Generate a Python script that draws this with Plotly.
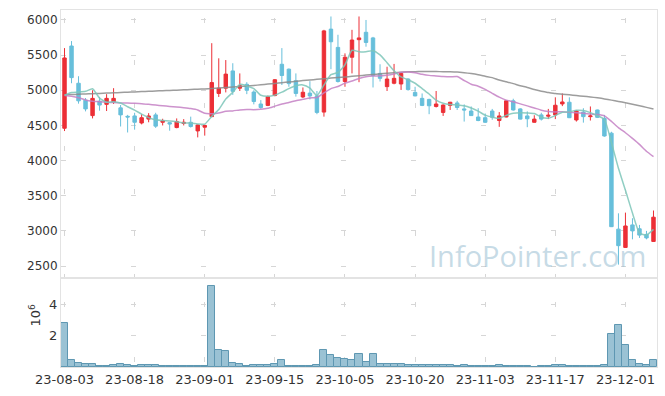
import pandas as pd
import plotly.graph_objects as go

# ---------------- data ----------------
holidays = ["2023-08-15", "2023-09-28", "2023-09-29", "2023-10-02", "2023-10-03", "2023-10-09"]
dates = pd.bdate_range("2023-08-03", "2023-12-07", freq="C", holidays=holidays)
labels = [d.strftime("%y-%m-%d") for d in dates]

opens = [4460, 5630, 5100, 4860, 4640, 4845, 4800, 4835, 4750, 4630,
         4635, 4535, 4590, 4650, 4545, 4540, 4470, 4528, 4545, 4422,
         4475, 4625, 4955, 5030, 5275, 5030, 5085, 4975, 4805, 4785,
         4925, 5370, 5300, 5135, 4905, 4960, 4920, 4690, 5870, 5610,
         5125, 5470, 5720, 5825, 5745, 5240, 5052, 5100, 5090, 5160,
         4970, 4885, 4870, 4770, 4685, 4785, 4820, 4735, 4705, 4620,
         4610, 4705, 4570, 4620, 4850, 4735, 4635, 4545, 4650, 4632,
         4650, 4806, 4830, 4578, 4690, 4625, 4720, 4600, 4390, 3025,
         2765, 3085, 3030, 2950, 2850]
highs = [5600, 5700, 5200, 4890, 5000, 4905, 4945, 5030, 4790, 4650,
         4680, 4660, 4675, 4680, 4595, 4545, 4600, 4590, 4625, 4515,
         4510, 5670, 5455, 5430, 5385, 5240, 5115, 5000, 4860, 4925,
         5160, 5600, 5310, 5240, 5040, 5130, 4990, 5860, 6050, 5790,
         5525, 5860, 6050, 6000, 5760, 5370, 5335, 5375, 5260, 5170,
         5050, 4955, 4880, 4990, 4800, 4835, 4850, 4800, 4770, 4745,
         4670, 4735, 4690, 4860, 4880, 4745, 4700, 4645, 4680, 4735,
         4900, 4955, 4900, 4720, 4745, 4770, 4725, 4650, 4410, 3250,
         3260, 3180, 3085, 3000, 3290]
lows = [4420, 5100, 4810, 4700, 4600, 4710, 4705, 4805, 4485, 4400,
        4440, 4515, 4545, 4465, 4500, 4425, 4460, 4500, 4470, 4330,
        4355, 4620, 4905, 4970, 4935, 4990, 4945, 4800, 4735, 4775,
        4915, 5075, 5050, 4910, 4890, 4870, 4660, 4625, 5300, 5110,
        5050, 5240, 5115, 5620, 5040, 5125, 4990, 5085, 5005, 4995,
        4915, 4775, 4660, 4755, 4635, 4720, 4720, 4555, 4635, 4560,
        4535, 4580, 4480, 4615, 4710, 4585, 4475, 4540, 4570, 4590,
        4590, 4775, 4605, 4555, 4540, 4570, 4605, 4340, 3055, 2520,
        2760, 2880, 2900, 2880, 2845]
closes = [5460, 5180, 4850, 4735, 4885, 4790, 4885, 4885, 4650, 4620,
          4545, 4610, 4635, 4490, 4565, 4520, 4555, 4545, 4485, 4507,
          4500, 5110, 5030, 5230, 4985, 5065, 5000, 4840, 4755, 4910,
          5150, 5210, 5095, 4955, 4972, 4920, 4685, 5845, 5690, 5125,
          5470, 5715, 5745, 5680, 5210, 5170, 5160, 5170, 5240, 5010,
          4920, 4785, 4780, 4805, 4790, 4830, 4755, 4720, 4640, 4570,
          4545, 4615, 4635, 4850, 4720, 4590, 4595, 4590, 4590, 4645,
          4787, 4834, 4610, 4706, 4625, 4635, 4615, 4350, 3060, 2790,
          3070, 3000, 2940, 2900, 3195]

ma_short = [4930, 4970, 4975, 4985, 5022, 4888, 4829, 4836, 4819, 4766,
            4717, 4662, 4612, 4580, 4569, 4564, 4553, 4535, 4534, 4522,
            4518, 4629, 4726, 4875, 4971, 5084, 5062, 5024, 4929, 4914,
            4931, 4973, 5024, 5064, 5076, 5030, 4925, 5075, 5222, 5253,
            5363, 5569, 5549, 5547, 5564, 5504, 5393, 5278, 5190, 5150,
            5100, 5025, 4947, 4860, 4816, 4798, 4792, 4780, 4747, 4703,
            4646, 4618, 4601, 4643, 4673, 4682, 4678, 4669, 4617, 4602,
            4641, 4689, 4693, 4716, 4712, 4682, 4638, 4586, 4257, 3890,
            3577, 3254, 2972, 2940, 3021]
ma_mid = [4925, 4915, 4895, 4862, 4845, 4838, 4830, 4825, 4820, 4818,
          4815, 4810, 4800, 4790, 4780, 4770, 4762, 4752, 4740, 4720,
          4672, 4668, 4677, 4702, 4707, 4721, 4727, 4724, 4730, 4744,
          4774, 4804, 4827, 4851, 4871, 4891, 4897, 4962, 5023, 5054,
          5102, 5132, 5168, 5191, 5202, 5207, 5215, 5232, 5256, 5261,
          5249, 5228, 5212, 5205, 5196, 5191, 5195, 5139, 5086, 5058,
          5012, 4957, 4902, 4860, 4836, 4807, 4778, 4749, 4717, 4699,
          4692, 4694, 4686, 4681, 4673, 4663, 4656, 4637, 4558, 4469,
          4396, 4315, 4230, 4133, 4056]
ma_long = [4935, 4939, 4943, 4948, 4952, 4956, 4960, 4964, 4969, 4973,
           4977, 4981, 4985, 4990, 4994, 4998, 5002, 5006, 5011, 5015,
           5019, 5026, 5033, 5040, 5048, 5055, 5062, 5069, 5078, 5088,
           5098, 5108, 5118, 5128, 5138, 5147, 5156, 5165, 5173, 5181,
           5189, 5198, 5207, 5216, 5225, 5234, 5243, 5251, 5258, 5263,
           5265, 5266, 5266, 5266, 5265, 5264, 5260, 5250, 5238, 5222,
           5200, 5180, 5145, 5120, 5095, 5065, 5040, 5010, 4985, 4970,
           4955, 4945, 4935, 4925, 4915, 4905, 4893, 4877, 4860, 4842,
           4822, 4800, 4780, 4757, 4735]

volumes = [2800000, 470000, 280000, 200000, 200000, 90000, 90000, 150000, 200000, 150000,
           90000, 150000, 100000, 100000, 40000, 90000, 40000, 40000, 90000, 90000,
           90000, 5200000, 1120000, 1010000, 280000, 200000, 90000, 150000, 100000, 100000,
           200000, 470000, 40000, 40000, 90000, 90000, 150000, 1060000, 750000, 600000,
           540000, 430000, 860000, 300000, 860000, 200000, 200000, 200000, 200000, 150000,
           100000, 100000, 150000, 100000, 150000, 100000, 40000, 150000, 40000, 90000,
           40000, 40000, 150000, 90000, 40000, 40000, 90000, 10000, 40000, 40000,
           150000, 100000, 40000, 40000, 40000, 90000, 40000, 150000, 2090000, 2670000,
           1440000, 430000, 200000, 100000, 430000]

price_ticks = [2500, 3000, 3500, 4000, 4500, 5000, 5500, 6000]
volume_ticks = [2000000, 4000000]
volume_ticktext = ["2", "4"]
date_ticks = labels[::10]

# ---------------- style ----------------
RED = "#ec2f36"
BLUE = "#67bfdb"
GRID = "#d6d6d6"
BORDER = "#e3e3e3"
FONT = "DejaVu Sans"

fig = go.Figure()
fig.add_trace(go.Candlestick(
    x=labels, open=opens, high=highs, low=lows, close=closes,
    increasing=dict(line=dict(color=RED, width=1), fillcolor=RED),
    decreasing=dict(line=dict(color=BLUE, width=1), fillcolor=BLUE),
    whiskerwidth=0, xaxis="x", yaxis="y", showlegend=False, hoverinfo="skip"))

for series, col in [(ma_long, "rgba(140,140,140,0.85)"),
                    (ma_mid, "rgba(196,128,196,0.85)"),
                    (ma_short, "rgba(124,198,184,0.85)")]:
    fig.add_trace(go.Scatter(x=labels, y=series, mode="lines", xaxis="x", yaxis="y",
                             line=dict(color=col, width=1.5, shape="spline", smoothing=0.5),
                             showlegend=False, hoverinfo="skip"))

fig.add_trace(go.Bar(x=labels, y=volumes, xaxis="x2", yaxis="y2",
                     marker=dict(color="#9ac2d4", line=dict(color="#5e97b2", width=1)),
                     showlegend=False, hoverinfo="skip"))

split = 0.2493
fig.update_layout(
    width=665, height=396,
    margin=dict(l=61, r=8, t=10, b=29, autoexpand=False),
    paper_bgcolor="white", plot_bgcolor="white",
    showlegend=False, bargap=0,
    font=dict(family=FONT, size=13, color="#333333"),
    xaxis=dict(domain=[0, 1], anchor="y", type="category", range=[-0.5, 84.5],
               tickvals=date_ticks, showticklabels=False, ticks="",
               showgrid=True, gridcolor=GRID, gridwidth=1, griddash="0px,7.6px,5px,30.15px",
               showline=True, mirror=True, linecolor=BORDER, linewidth=1,
               rangeslider=dict(visible=False), fixedrange=True),
    yaxis=dict(domain=[split, 1], anchor="x", range=[2330, 6142], tickvals=price_ticks,
               ticks="", showgrid=True, gridcolor=GRID, gridwidth=1, griddash="5px,65px",
               showline=True, mirror=True, linecolor=BORDER, linewidth=1, zeroline=False,
               tickfont=dict(size=12)),
    xaxis2=dict(domain=[0, 1], anchor="y2", type="category", range=[-0.5, 84.5],
                matches="x", tickvals=date_ticks, ticktext=date_ticks, ticks="",
                showgrid=True, gridcolor=GRID, gridwidth=1, griddash="0px,24px,5px,26px",
                showline=True, mirror=True, linecolor=BORDER, linewidth=1,
                tickfont=dict(size=13)),
    yaxis2=dict(domain=[0, split], anchor="x2", range=[0, 5700000], tickvals=volume_ticks,
                ticktext=volume_ticktext, ticks="", showgrid=True, gridcolor=GRID,
                gridwidth=1, griddash="5px,65px", showline=True, mirror=True,
                linecolor=BORDER, linewidth=1, zeroline=False, tickfont=dict(size=13)),
    annotations=[
        dict(text="10<sup>6</sup>", xref="paper", yref="paper", x=-0.061, y=0.108,
             textangle=-90, showarrow=False, font=dict(size=13, family=FONT, color="#333333")),
        dict(text="InfoPointer.com", xref="paper", yref="paper", x=0.80, y=0.311,
             xanchor="center", yanchor="middle", showarrow=False,
             font=dict(size=29, family="Open Sans", color="rgba(150,188,208,0.55)")),
    ],
)

fig.write_html("out.html", config={"displayModeBar": False},
               post_script="document.body.style.margin='0px';")
